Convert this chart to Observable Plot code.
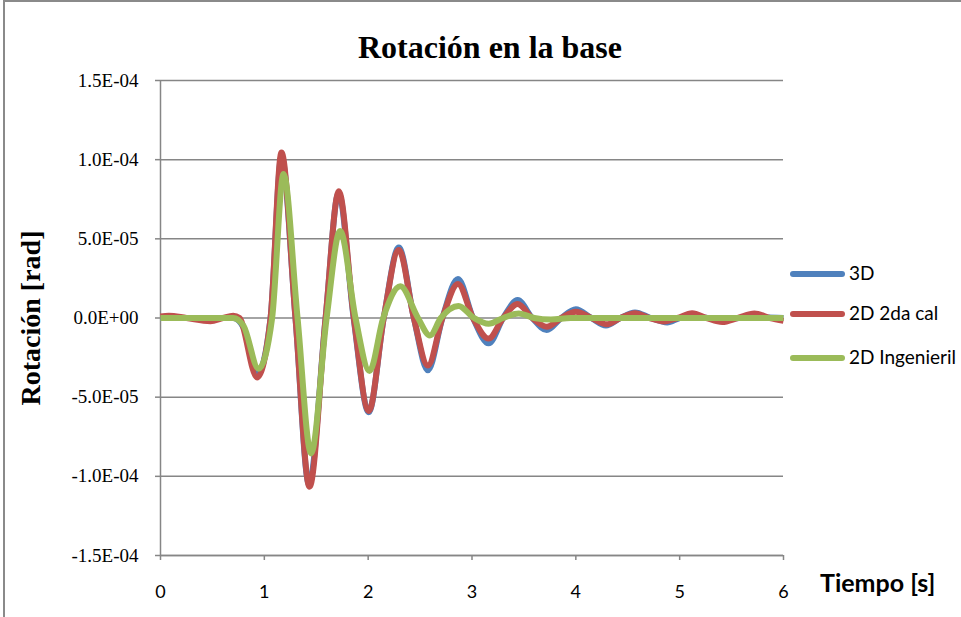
<!DOCTYPE html>
<html>
<head>
<meta charset="utf-8">
<script src="https://cdn.jsdelivr.net/npm/d3@7"></script>
<script src="https://cdn.jsdelivr.net/npm/@observablehq/plot@0.6"></script>
<style>
  html, body { margin: 0; padding: 0; background: #fff; overflow: hidden; }
  #wrap { position: relative; width: 961px; height: 617px; overflow: hidden; }
  #border { position: absolute; left: 3px; top: 0px; width: 1000px; height: 700px; border-left: 2px solid #8a8a8a; border-top: 2px solid #8a8a8a; box-sizing: border-box; }
  #chart { position: absolute; left: 0; top: 0; }
  .title { position: absolute; left: 490px; top: 31px; line-height: 1; transform: translateX(-50%); font-family: "Liberation Serif", serif; font-weight: bold; font-size: 32px; white-space: nowrap; color: #000; }
  .ylab { position: absolute; left: 31px; top: 318px; line-height: 1; transform: translate(-50%, -50%) rotate(-90deg); font-family: "Liberation Serif", serif; font-weight: bold; font-size: 28px; white-space: nowrap; color: #000; }
  .xlab { position: absolute; left: 820px; top: 570px; line-height: 1; font-family: Lato, sans-serif; font-weight: bold; font-size: 25px; white-space: nowrap; color: #000; }
  .leg { position: absolute; left: 790px; line-height: 1; font-family: Lato, sans-serif; font-size: 19px; color: #000; white-space: nowrap; }
  .leg span.sw { display: inline-block; width: 55px; height: 6px; border-radius: 3px; vertical-align: middle; margin-right: 4px; position: relative; top: -1px; }
</style>
</head>
<body>
<div id="wrap">
  <div id="border"></div>
  <div id="chart"></div>
  <div class="title">Rotación en la base</div>
  <div class="ylab">Rotación [rad]</div>
  <div class="xlab">Tiempo [s]</div>
  <div id="legend"></div>
</div>
<script>
// Units for the series values below: 1e-5 rad
const UNIT = 1e-5;

const seriesNames = ["3D", "2D 2da cal", "2D Ingenieril"];
const seriesColors = ["#4F81BD", "#C0504D", "#9BBB59"];

// 3D (blue)
const t3D = [0, 0.70, 0.80, 0.93, 1.06, 1.165, 1.30, 1.43, 1.59, 1.715, 1.86, 2.005, 2.15, 2.295, 2.44, 2.575, 2.715, 2.865, 3.01, 3.16, 3.30, 3.44, 3.58, 3.72, 3.86, 4.0, 4.15, 4.29, 4.43, 4.57, 4.72, 4.88, 5.0, 5.13, 5.27, 5.42, 5.57, 5.72, 6.0];
const v3D = [0, 0, -0.6, -3.6, 0, 10.2, 0, -10.5, 0, 7.9, 0, -5.95, 0, 4.45, 0, -3.3, 0, 2.46, 0, -1.6, 0, 1.14, 0, -0.76, 0, 0.55, 0, -0.47, 0, 0.35, 0, -0.28, 0, 0.12, 0, -0.1, 0, 0.06, 0];

// 2D 2da cal (red)
const t2D = [0, 0.08, 0.25, 0.48, 0.60, 0.70, 0.76, 0.93, 1.06, 1.165, 1.30, 1.435, 1.59, 1.717, 1.862, 2.006, 2.15, 2.295, 2.44, 2.575, 2.715, 2.865, 3.01, 3.16, 3.30, 3.44, 3.58, 3.72, 3.86, 4.0, 4.15, 4.30, 4.43, 4.57, 4.71, 4.85, 4.98, 5.12, 5.26, 5.41, 5.56, 5.72, 5.87, 6.0];
const v2D = [0.1, 0.15, 0, -0.2, 0, 0.15, 0, -3.75, 0, 10.45, 0, -10.65, 0, 8.0, 0, -5.87, 0, 4.3, 0, -3.0, 0, 2.15, 0, -1.3, 0, 0.88, 0, -0.55, 0, 0.4, 0, -0.4, 0, 0.3, 0, -0.22, 0, 0.3, 0, -0.25, 0, 0.28, 0, -0.18];

// 2D Ingenieril (green)
const tIng = [0, 0.70, 0.80, 0.945, 1.075, 1.185, 1.32, 1.45, 1.60, 1.73, 1.878, 2.013, 2.145, 2.31, 2.48, 2.595, 2.70, 2.87, 3.02, 3.16, 3.30, 3.45, 3.60, 3.76, 3.95, 6.0];
const vIng = [0, 0, -0.5, -3.2, 0, 9.1, 0, -8.55, 0, 5.5, 0, -3.35, 0, 2.0, 0, -1.1, 0, 0.76, 0, -0.36, 0, 0.28, 0, -0.1, 0, 0];

const xTicks = [0, 1, 2, 3, 4, 5, 6];
const yTicks = [-1.5e-4, -1.0e-4, -5.0e-5, 0, 5.0e-5, 1.0e-4, 1.5e-4];

const toRows = (ts, vs) => ts.map((t, i) => ({t, v: vs[i] * UNIT}));
const rows = [toRows(t3D, v3D), toRows(t2D, v2D), toRows(tIng, vIng)];

const fmtE = d => {
  const [m, e] = d.toExponential(1).split("e");
  const n = +e;
  return m + "E" + (n < 0 ? "-" : "+") + String(Math.abs(n)).padStart(2, "0");
};

const gridColor = "#868686";

const plot = Plot.plot({
  width: 961,
  height: 617,
  marginLeft: 160,
  marginRight: 178,
  marginTop: 80,
  marginBottom: 62,
  style: {background: "transparent", overflow: "visible"},
  x: {domain: [0, 6]},
  y: {domain: [-1.5e-4, 1.5e-4]},
  marks: [
    Plot.gridY(yTicks, {stroke: gridColor, strokeOpacity: 1, strokeWidth: 1.5}),
    Plot.ruleX([0], {stroke: gridColor, strokeWidth: 1.5}),
    Plot.ruleY([-1.5e-4], {stroke: gridColor, strokeWidth: 1.5}),
    Plot.axisY(yTicks, {tickFormat: fmtE, tickSize: 5, tickPadding: 17, stroke: gridColor, strokeWidth: 1.5, fontFamily: "Liberation Serif", fontSize: 19, fill: "#000", label: null}),
    Plot.axisX(xTicks, {tickSize: 5, tickPadding: 25, stroke: gridColor, strokeWidth: 1.5, fontFamily: "Lato", fontSize: 18, fill: "#000", label: null}),
    ...rows.map((r, i) => Plot.line(r, {x: "t", y: "v", stroke: seriesColors[i], strokeWidth: 6, curve: "monotone-x", strokeLinejoin: "round", strokeLinecap: "butt"}))
  ]
});
document.getElementById("chart").appendChild(plot);

const legendTops = [263, 303, 347];
const leg = document.getElementById("legend");
seriesNames.forEach((name, i) => {
  const d = document.createElement("div");
  d.className = "leg";
  d.style.top = legendTops[i] + "px";
  d.innerHTML = `<span class="sw" style="background:${seriesColors[i]}"></span>${name}`;
  leg.appendChild(d);
});
</script>
</body>
</html>
